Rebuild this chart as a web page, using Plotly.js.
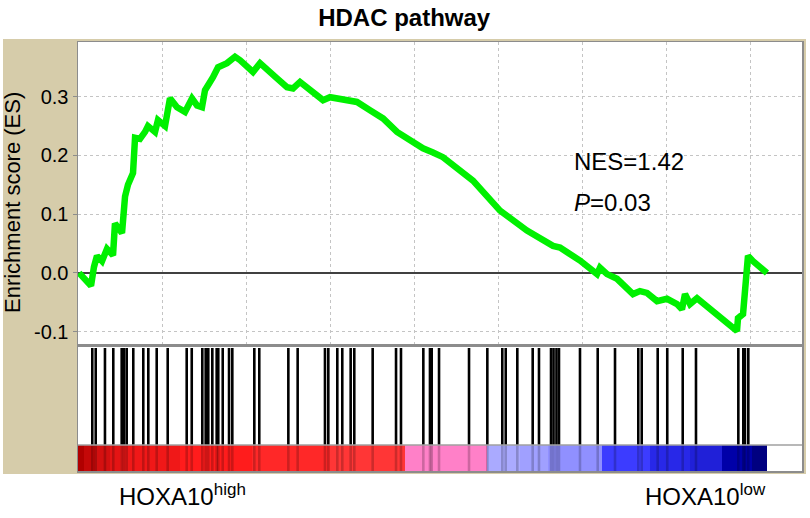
<!DOCTYPE html>
<html>
<head>
<meta charset="utf-8">
<script src="https://cdn.plot.ly/plotly-3.0.1.min.js"></script>
<style>
  html, body { margin: 0; padding: 0; background: #fff; }
  #plot { width: 810px; height: 518px; }
</style>
</head>
<body>
<div id="plot"></div>
<script>
// running enrichment score (rank, ES)
const esRank = [12, 155, 190, 226, 286, 345, 417, 440, 524, 560, 595, 655, 679, 738, 798, 833, 917, 952,
  1036, 1095, 1179, 1274, 1357, 1417, 1476, 1512, 1607, 1667, 1774, 1869, 1929, 2083, 2167, 2250, 2369,
  2488, 2560, 2643, 2762, 2917, 3000, 3202, 3321, 3476, 3631, 3798, 4107, 4226, 4345, 4702, 5024, 5345,
  5655, 5738, 5976, 6179, 6214, 6298, 6417, 6607, 6690, 6774, 6893, 7012, 7131, 7190, 7226, 7286, 7369,
  7845, 7857, 7917, 7940, 7976, 8036, 8202];
const esScore = [0, -0.022, 0.01, 0.029, 0.02, 0.041, 0.03, 0.084, 0.068, 0.13, 0.15, 0.17, 0.23, 0.228,
  0.24, 0.25, 0.24, 0.26, 0.25, 0.297, 0.282, 0.274, 0.297, 0.285, 0.282, 0.311, 0.333, 0.35, 0.357, 0.368,
  0.362, 0.342, 0.357, 0.345, 0.331, 0.316, 0.314, 0.325, 0.311, 0.294, 0.299, 0.294, 0.291, 0.277, 0.263,
  0.24, 0.212, 0.205, 0.197, 0.157, 0.106, 0.072, 0.046, 0.043, 0.021, -0.002, 0.009, -0.002, -0.01,
  -0.036, -0.031, -0.034, -0.048, -0.044, -0.053, -0.062, -0.036, -0.053, -0.043, -0.099, -0.077, -0.07,
  -0.014, 0.029, 0.02, 0.0];

// gene set members along the ranked list
const hitRank = [170, 211, 321, 420, 520, 548, 580, 658, 777, 837, 937, 1068, 1294, 1354, 1480, 1520, 1551,
  1599, 1651, 1670, 1723, 1798, 1837, 2099, 2158, 2504, 2615, 2940, 2980, 3087, 3146, 3246, 3289, 3508,
  3786, 3845, 4111, 4190, 4211, 4298, 4655, 4873, 5051, 5092, 5230, 5413, 5488, 5631, 5661, 5696, 5726,
  5976, 6187, 6393, 6670, 6711, 6901, 7015, 7199, 7357, 7861, 7920, 7940, 7980];

// ranked metric colour band: segment edges and level (+1 high ... -1 low)
const bandEdges = [0, 71, 202, 381, 500, 1214, 2071, 3000, 3893, 4869, 5262, 5595, 6238, 6810, 7286, 7667, 8024, 8202];
const bandLevel = [1.0, 0.9, 0.8, 0.7, 0.6, 0.5, 0.4, 0.3, 0.1, -0.1, -0.2, -0.3, -0.5, -0.6, -0.7, -0.9, -1.0];

const yTickVals = [-0.1, 0, 0.1, 0.2, 0.3];
const yTickText = ["-0.1", "0.0", "0.1", "0.2", "0.3"];

const bandScale = [
  [0, "#000080"], [0.05, "#0000a8"], [0.15, "#2020d8"], [0.2, "#2828e8"], [0.25, "#3c3cff"],
  [0.35, "#9090ff"], [0.4, "#a0a0ff"], [0.45, "#aaaaff"], [0.55, "#ff80c8"], [0.65, "#ff3636"],
  [0.7, "#ff2828"], [0.75, "#ff1c1c"], [0.8, "#f01818"], [0.85, "#e41414"], [0.9, "#d41010"],
  [0.95, "#c40808"], [1, "#b00000"]
];

const FONT = "Liberation Sans, Arial, sans-serif";
const BEIGE = "#d6ccaa";
const FRAME = "#8c8c8c";

// plot area in pixels: x 78..802, y 42..471
const W = 724, H = 429, L = 78, B = 471;
const px = x => (x - L) / W;
const py = y => (B - y) / H;

const hitX = [], hitY = [], hitLowX = [], hitLowY = [];
hitRank.forEach(r => {
  hitX.push(r, r, null); hitY.push(0.26, 1.23, null);
  hitLowX.push(r, r, null); hitLowY.push(0, 0.26, null);
});

const traces = [
  {
    type: "scatter", mode: "lines", x: esRank, y: esScore, xaxis: "x", yaxis: "y",
    line: { color: "#00f000", width: 6.5 }, hoverinfo: "skip"
  },
  {
    type: "heatmap", x: bandEdges, y: [0, 0.26], z: [bandLevel], xaxis: "x2", yaxis: "y2",
    colorscale: bandScale, zmin: -1, zmax: 1, showscale: false, hoverinfo: "skip"
  },
  {
    type: "scatter", mode: "lines", x: hitLowX, y: hitLowY, xaxis: "x2", yaxis: "y2",
    line: { color: "rgba(0,0,0,0.2)", width: 2.6 }, hoverinfo: "skip"
  },
  {
    type: "scatter", mode: "lines", x: hitX, y: hitY, xaxis: "x2", yaxis: "y2",
    line: { color: "#000", width: 2.6 }, hoverinfo: "skip"
  }
];

const xRange = [0, 8619];
const layout = {
  width: 810, height: 518,
  margin: { l: L, r: 8, t: 42, b: 518 - B },
  paper_bgcolor: "#fff", plot_bgcolor: "#fff",
  showlegend: false,
  font: { family: FONT, color: "#000" },
  title: {
    text: "<b>HDAC pathway</b>", font: { size: 24, family: FONT, color: "#000" },
    x: 0.499, xanchor: "center", y: 1 - 18 / 518, yanchor: "middle"
  },
  xaxis: {
    domain: [0, 1], range: xRange, anchor: "y", dtick: 1000, tick0: 0,
    showticklabels: false, ticks: "", showgrid: true, gridcolor: "#c4c4c4", griddash: "3px,3px",
    zeroline: false, showline: true, mirror: true, linecolor: FRAME, linewidth: 1.5
  },
  yaxis: {
    domain: [py(345), 1], range: [-0.1227, 0.393], anchor: "x",
    tickvals: yTickVals, ticktext: yTickText, tickfont: { size: 20, family: FONT, color: "#000" },
    ticks: "outside", ticklen: 4, tickcolor: FRAME,
    showgrid: true, gridcolor: "#c4c4c4", griddash: "3px,3px",
    zeroline: true, zerolinecolor: "#404040", zerolinewidth: 2,
    showline: true, mirror: true, linecolor: FRAME, linewidth: 1.5
  },
  xaxis2: {
    domain: [0, 1], range: xRange, anchor: "y2", showticklabels: false, ticks: "",
    showgrid: false, zeroline: false, showline: true, mirror: true, linecolor: FRAME, linewidth: 1.5
  },
  yaxis2: {
    domain: [0, py(345)], range: [0, 1.26], anchor: "x2", showticklabels: false, ticks: "",
    showgrid: false, zeroline: false, showline: true, mirror: true, linecolor: FRAME, linewidth: 1.5
  },
  shapes: [
    { type: "rect", xref: "paper", yref: "paper", layer: "below",
      x0: px(3), x1: px(806), y0: py(474), y1: py(39), fillcolor: BEIGE, line: { width: 0 } },
    { type: "rect", xref: "paper", yref: "paper", layer: "below",
      x0: 0, x1: 1, y0: 0, y1: 1, fillcolor: "#fff", line: { width: 0 } },
    { type: "line", xref: "paper", yref: "y2", x0: 0, x1: 1, y0: 0.26, y1: 0.26,
      line: { color: "#a0a0a0", width: 1.5 } }
  ],
  annotations: [
    { text: "Enrichment score (ES)", textangle: -90, xref: "paper", yref: "paper",
      x: px(13), y: py(203), xanchor: "center", yanchor: "middle", showarrow: false,
      font: { size: 22, family: FONT, color: "#000" } },
    { text: "NES=1.42", xref: "x", yref: "y", x: 5881, y: 0.189, xanchor: "left", yanchor: "middle",
      showarrow: false, font: { size: 24, family: FONT, color: "#000" } },
    { text: "<i>P</i>=0.03", xref: "x", yref: "y", x: 5881, y: 0.119, xanchor: "left", yanchor: "middle",
      showarrow: false, font: { size: 24, family: FONT, color: "#000" } },
    { text: "HOXA10<sup><span style=\"font-size:17px\">high</span></sup>", xref: "paper", yref: "paper",
      x: px(117), y: py(495), xanchor: "left", yanchor: "middle", showarrow: false,
      font: { size: 24, family: FONT, color: "#000" } },
    { text: "HOXA10<sup><span style=\"font-size:17px\">low</span></sup>", xref: "paper", yref: "paper",
      x: px(643), y: py(495), xanchor: "left", yanchor: "middle", showarrow: false,
      font: { size: 24, family: FONT, color: "#000" } }
  ]
};

Plotly.newPlot("plot", traces, layout, { staticPlot: true, displayModeBar: false });
</script>
</body>
</html>
